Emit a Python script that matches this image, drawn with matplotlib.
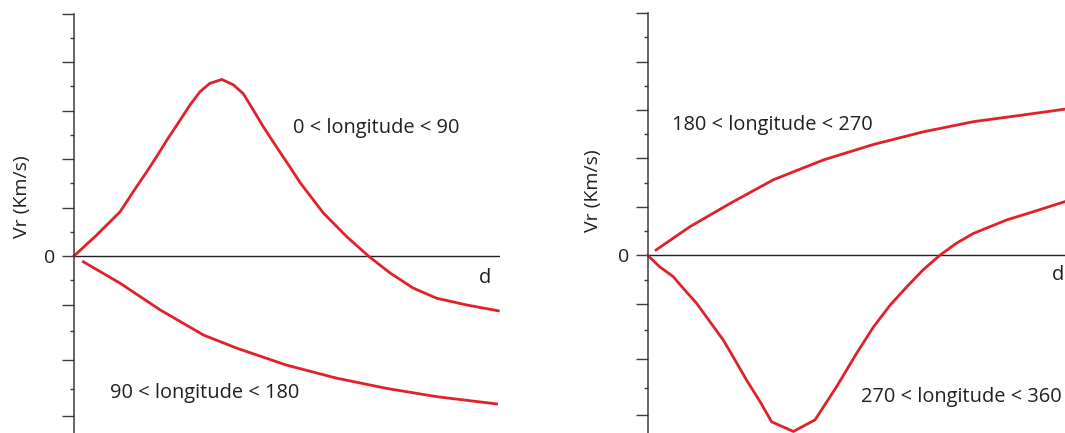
import matplotlib
matplotlib.use("Agg")
import matplotlib.pyplot as plt

plt.rcParams["font.family"] = ["Open Sans", "DejaVu Sans"]

# Left panel curves (d, Vr)
d_q1 = [0, 0.53, 0.77, 1.08, 1.47, 1.71, 1.94, 2.21, 2.49, 2.72, 2.96, 3.19, 3.47,
        3.74, 3.97, 4.21, 4.44, 4.76, 5.05, 5.31, 5.85, 6.40, 6.91, 7.42, 7.96,
        8.51, 9.22, 9.96]
vr_q1 = [0, 0.43, 0.64, 0.91, 1.43, 1.74, 2.05, 2.43, 2.80, 3.11, 3.39, 3.56, 3.64,
         3.53, 3.35, 3.01, 2.67, 2.24, 1.86, 1.51, 0.89, 0.40, 0.0, -0.35, -0.66,
         -0.87, -1.01, -1.13]

d_q2 = [0.22, 1.08, 2.02, 3.04, 3.82, 4.99, 6.17, 7.34, 8.51, 9.92]
vr_q2 = [-0.12, -0.56, -1.11, -1.63, -1.90, -2.25, -2.52, -2.73, -2.90, -3.05]

# Right panel curves
d_q3 = [0.20, 1.01, 1.97, 3.01, 4.21, 5.41, 6.60, 7.80, 9.00, 10.0]
vr_q3 = [0.11, 0.59, 1.07, 1.56, 1.97, 2.29, 2.55, 2.76, 2.90, 3.02]

d_q4 = [0, 0.29, 0.61, 0.89, 1.17, 1.49, 1.81, 2.09, 2.37, 2.69, 2.97, 3.49, 4.01,
        4.53, 5.01, 5.41, 5.81, 6.21, 6.60, 7.00, 7.40, 7.80, 8.20, 8.60, 9.24, 10.0]
vr_q4 = [0, -0.24, -0.44, -0.72, -0.99, -1.37, -1.75, -2.16, -2.58, -3.02, -3.44,
         -3.64, -3.40, -2.71, -2.02, -1.48, -1.03, -0.65, -0.30, 0.0, 0.25, 0.45,
         0.59, 0.73, 0.90, 1.11]

major_ticks = [-3.3, -2.15, -1, 0, 1, 2, 3, 4, 5]
minor_ticks = [-2.75, -1.55, -0.5, 0.5, 1.5, 2.5, 3.5, 4.5]
tick_labels = ["", "", "", "0", "", "", "", "", ""]

red = "#e0202a"
ink = "#231f20"

fig = plt.figure(figsize=(10.65, 4.33), dpi=100)
ax1 = fig.add_axes([74 / 1065, 0, 426 / 1065, 1 - 13.5 / 433])
ax2 = fig.add_axes([647.7 / 1065, 0, 417.3 / 1065, 1 - 13.3 / 433])


def style(ax, ybottom):
    ax.set_xlim(0, 10)
    ax.set_ylim(ybottom, 5)
    for s in ["top", "right", "bottom"]:
        ax.spines[s].set_visible(False)
    ax.spines["left"].set_color("#3a3a3a")
    ax.spines["left"].set_linewidth(1.1)
    ax.set_xticks([])
    ax.set_yticks(major_ticks, tick_labels)
    ax.set_yticks(minor_ticks, minor=True)
    ax.tick_params(axis="y", which="major", length=8.3, width=1.0, color="#3a3a3a",
                   pad=5, labelsize=14, labelcolor=ink)
    ax.tick_params(axis="y", which="minor", length=3.2, width=1.0, color="#3a3a3a")
    ax.axhline(0, color=ink, lw=1.0, zorder=1)
    ax.patch.set_visible(False)


style(ax1, -(433 - 256) / 48.5)
style(ax2, -(433 - 255.3) / 48.4)

lw = 2.0
ax1.plot(d_q1, vr_q1, color=red, lw=lw, clip_on=False, solid_joinstyle="round")
ax1.plot(d_q2, vr_q2, color=red, lw=lw, clip_on=False, solid_joinstyle="round")
ax2.plot(d_q3, vr_q3, color=red, lw=lw, clip_on=False, solid_joinstyle="round")
ax2.plot(d_q4, vr_q4, color=red, lw=lw, clip_on=False, solid_joinstyle="round")

fs = 14.4
ax1.text(5.14, 2.64, "0 < longitude < 90", fontsize=fs, color=ink, ha="left", va="center")
ax1.text(0.85, -2.82, "90 < longitude < 180", fontsize=fs, color=ink, ha="left", va="center")
ax1.text(9.65, -0.45, "d", fontsize=fs, color=ink, ha="center", va="center")
ax1.text(-1.23, 1.22, "Vr (Km/s)", fontsize=14, color=ink, rotation=90,
         ha="center", va="center")

ax2.text(0.575, 2.69, "180 < longitude < 270", fontsize=fs, color=ink, ha="left", va="center")
ax2.text(9.93, -2.92, "270 < longitude < 360", fontsize=fs, color=ink, ha="right", va="center")
ax2.text(9.97, -0.41, "d", fontsize=fs, color=ink, ha="right", va="center")
ax2.text(-1.30, 1.33, "Vr (Km/s)", fontsize=14, color=ink, rotation=90,
         ha="center", va="center")

fig.savefig("out.png", dpi=100)
